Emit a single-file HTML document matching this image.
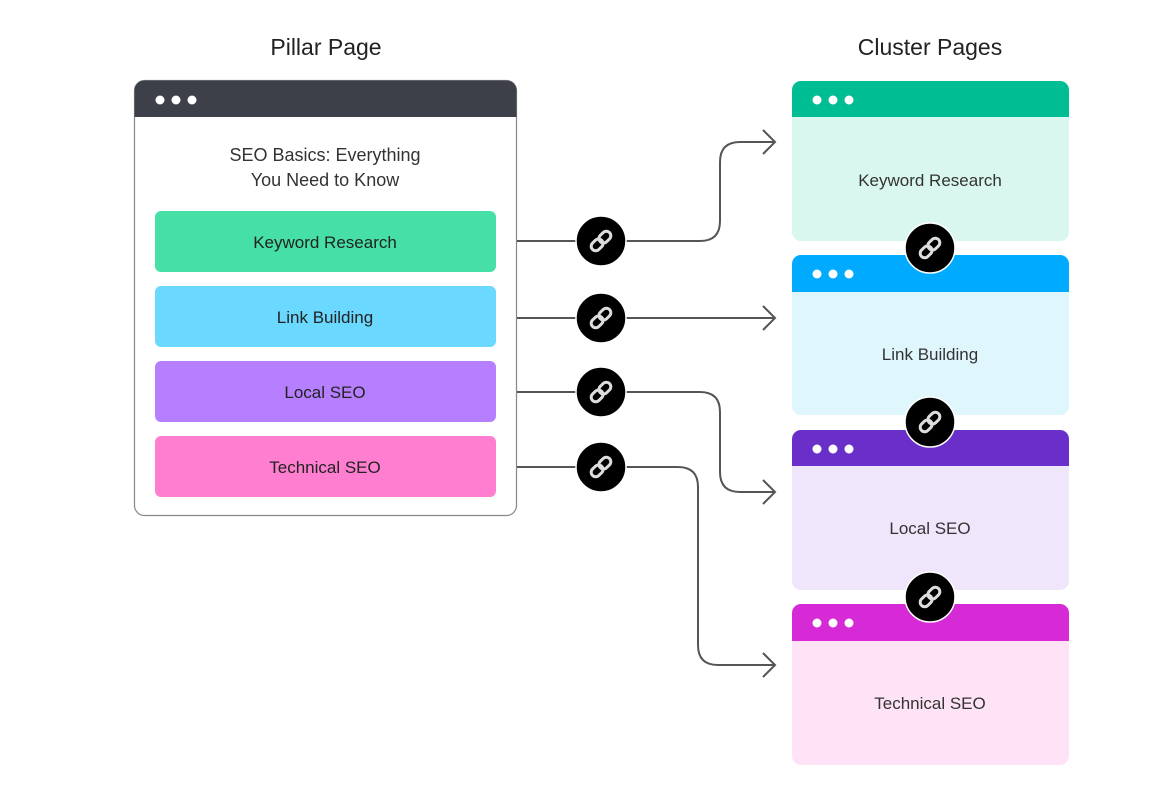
<!DOCTYPE html>
<html><head><meta charset="utf-8"><style>
body{margin:0;background:#fff;}
svg{display:block;font-family:"Liberation Sans",sans-serif;}
</style></head><body>
<svg width="1170" height="806" viewBox="0 0 1170 806" xmlns="http://www.w3.org/2000/svg">
<defs>
<g id="lk">
<circle r="25" fill="#000" stroke="#fff" stroke-width="1.5"/>
<g fill="none" stroke="#ddd" stroke-width="3" stroke-linecap="round" transform="rotate(-45)">
<rect x="-12" y="-4.5" width="13" height="9" rx="4.5"/>
<rect x="-1" y="-4.5" width="13" height="9" rx="4.5"/>
</g>
</g>
</defs>
<text x="326" y="55" text-anchor="middle" font-size="23" fill="#222">Pillar Page</text>
<text x="930" y="55" text-anchor="middle" font-size="23" fill="#222">Cluster Pages</text>

<!-- pillar -->
<rect x="134.5" y="80.5" width="382" height="435" rx="10" fill="#fff" stroke="#888" stroke-width="1.2"/>
<path d="M134.5 117 V90.5 a10 10 0 0 1 10 -10 H506.5 a10 10 0 0 1 10 10 V117 Z" fill="#3d4049"/>
<circle cx="160" cy="100" r="4.5" fill="#fff"/><circle cx="176" cy="100" r="4.5" fill="#fff"/><circle cx="192" cy="100" r="4.5" fill="#fff"/>
<text x="325" y="161" text-anchor="middle" font-size="18" fill="#333">SEO Basics: Everything</text>
<text x="325" y="186" text-anchor="middle" font-size="18" fill="#333">You Need to Know</text>
<rect x="155" y="211" width="341" height="61" rx="6" fill="#46e0a6"/>
<rect x="155" y="286" width="341" height="61" rx="6" fill="#6ad8ff"/>
<rect x="155" y="361" width="341" height="61" rx="6" fill="#b57fff"/>
<rect x="155" y="436" width="341" height="61" rx="6" fill="#ff7ed0"/>
<g font-size="17" fill="#222" text-anchor="middle">
<text x="325" y="248">Keyword Research</text>
<text x="325" y="323">Link Building</text>
<text x="325" y="398">Local SEO</text>
<text x="325" y="473">Technical SEO</text>
</g>

<!-- connectors -->
<g fill="none" stroke="#555" stroke-width="2">
<path d="M517 241 H700 Q720 241 720 221 V162 Q720 142 740 142 H775"/>
<path d="M763 130 L775 142 L763 154"/>
<path d="M517 318 H775"/>
<path d="M763 306 L775 318 L763 330"/>
<path d="M517 392 H700 Q720 392 720 412 V472 Q720 492 740 492 H775"/>
<path d="M763 480 L775 492 L763 504"/>
<path d="M517 467 H678 Q698 467 698 487 V645 Q698 665 718 665 H775"/>
<path d="M763 653 L775 665 L763 677"/>
</g>

<!-- clusters -->
<g>
<rect x="792" y="81" width="277" height="160" rx="9" fill="#d9f7ee"/>
<path d="M792 117 V90 a9 9 0 0 1 9 -9 H1060 a9 9 0 0 1 9 9 V117 Z" fill="#00bd94"/>
<rect x="792" y="255" width="277" height="160" rx="9" fill="#dff6fd"/>
<path d="M792 292 V264 a9 9 0 0 1 9 -9 H1060 a9 9 0 0 1 9 9 V292 Z" fill="#00aaff"/>
<rect x="792" y="430" width="277" height="160" rx="9" fill="#efe6fc"/>
<path d="M792 466 V439 a9 9 0 0 1 9 -9 H1060 a9 9 0 0 1 9 9 V466 Z" fill="#6b2fc9"/>
<rect x="792" y="604" width="277" height="161" rx="9" fill="#fde3f5"/>
<path d="M792 641 V613 a9 9 0 0 1 9 -9 H1060 a9 9 0 0 1 9 9 V641 Z" fill="#d62ad6"/>
<g fill="#fff">
<circle cx="817" cy="100" r="4.5"/><circle cx="833" cy="100" r="4.5"/><circle cx="849" cy="100" r="4.5"/>
<circle cx="817" cy="274" r="4.5"/><circle cx="833" cy="274" r="4.5"/><circle cx="849" cy="274" r="4.5"/>
<circle cx="817" cy="449" r="4.5"/><circle cx="833" cy="449" r="4.5"/><circle cx="849" cy="449" r="4.5"/>
<circle cx="817" cy="623" r="4.5"/><circle cx="833" cy="623" r="4.5"/><circle cx="849" cy="623" r="4.5"/>
</g>
<g font-size="17" fill="#333" text-anchor="middle">
<text x="930" y="186">Keyword Research</text>
<text x="930" y="360">Link Building</text>
<text x="930" y="534">Local SEO</text>
<text x="930" y="709">Technical SEO</text>
</g>
</g>

<use href="#lk" x="601" y="241"/>
<use href="#lk" x="601" y="318"/>
<use href="#lk" x="601" y="392"/>
<use href="#lk" x="601" y="467"/>
<use href="#lk" x="930" y="248"/>
<use href="#lk" x="930" y="422"/>
<use href="#lk" x="930" y="597"/>
</svg>
</body></html>
